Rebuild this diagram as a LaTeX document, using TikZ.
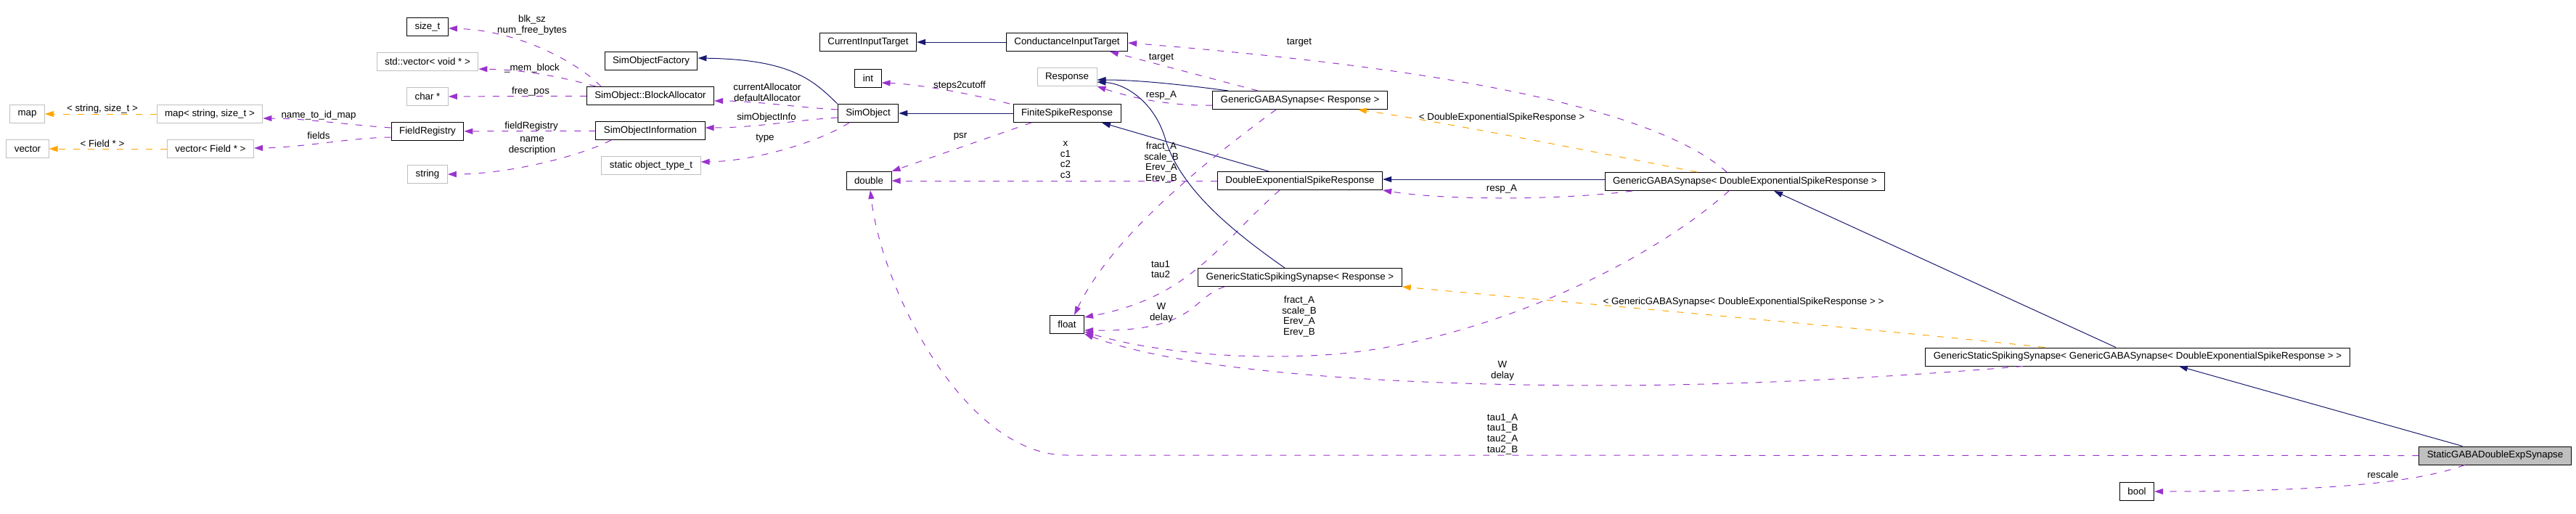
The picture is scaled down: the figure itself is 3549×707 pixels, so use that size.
\documentclass[tikz,border=0pt]{standalone}
\usepackage{fontspec}
\setmainfont{Liberation Sans}
\usetikzlibrary{arrows.meta}
\definecolor{usepurple}{HTML}{9A32CD}
\definecolor{inhblue}{HTML}{191970}
\definecolor{tmplorange}{HTML}{FFA500}
\definecolor{extgrey}{HTML}{BFBFBF}
\newcommand\dfont{\fontsize{13.33}{14.7}\selectfont}
\tikzset{
  cls/.style={draw=black, line width=1pt, font=\dfont, inner xsep=11pt, inner ysep=0pt, minimum height=25pt, anchor=center},
  ext/.style={cls, draw=extgrey},
  tip/.style={-{Triangle[length=12pt,width=8pt]}},
  use/.style={draw=usepurple, line width=1pt, dash pattern=on 9pt off 11pt, tip},
  inh/.style={draw=inhblue, line width=1pt, tip},
  tmpl/.style={draw=tmplorange, line width=1pt, dash pattern=on 9pt off 11pt, tip},
  lbl/.style={font=\dfont, align=center, inner sep=0pt},
}
\begin{document}
\begin{tikzpicture}[x=1pt,y=-1pt]
\useasboundingbox (0,0) rectangle (3549,707);
% nodes
\node[ext] (map) at (37.5,157) {map};
\node[ext] (vector) at (38,205) {vector};
\node[ext] (mapss) at (289,157) {map< string, size\_t >};
\node[ext] (vecf) at (290,205) {vector< Field * >};
\node[cls] (freg) at (589,181) {FieldRegistry};
\node[cls] (sizet) at (589,37) {size\_t};
\node[ext] (stdvec) at (589,85) {std::vector< void * >};
\node[ext] (charp) at (589,133) {char *};
\node[ext] (string) at (589,240) {string};
\node[cls] (sof) at (897,84) {SimObjectFactory};
\node[cls] (ba) at (896,132) {SimObject::BlockAllocator};
\node[cls] (soi) at (896,180) {SimObjectInformation};
\node[ext] (sot) at (897,228) {static object\_type\_t};
\node[cls] (cit) at (1196,58) {CurrentInputTarget};
\node[cls] (int) at (1196,108) {int};
\node[cls] (so) at (1196,156) {SimObject};
\node[cls] (double) at (1197,249) {double};
\node[cls] (cond) at (1470,58) {ConductanceInputTarget};
\node[ext] (resp) at (1470,106) {Response};
\node[cls] (fsr) at (1470,156) {FiniteSpikeResponse};
\node[cls] (float) at (1470,447) {float};
\node[cls] (ggsr) at (1791,138) {GenericGABASynapse< Response >};
\node[cls] (desr) at (1791,249) {DoubleExponentialSpikeResponse};
\node[cls] (gssr) at (1791,382) {GenericStaticSpikingSynapse< Response >};
\node[cls] (ggsd) at (2404,250) {GenericGABASynapse< DoubleExponentialSpikeResponse >};
\node[cls] (gssg) at (2945,491.5) {GenericStaticSpikingSynapse< GenericGABASynapse< DoubleExponentialSpikeResponse > >};
\node[cls, fill=extgrey] (sgaba) at (3437.5,627.5) {StaticGABADoubleExpSynapse};
\node[cls] (bool) at (2944,677) {bool};
% template edges
\draw[tmpl] (mapss) -- (map);
\node[lbl] at (141,150) {< string, size\_t >};
\draw[tmpl] (vecf) -- (vector);
\node[lbl] at (141,198) {< Field * >};
% field registry
\draw[use] ([yshift=5pt]freg.west) .. controls (480,172) and (420,163) .. ([yshift=-6pt]mapss.east);
\node[lbl] at (439,159) {name\_to\_id\_map};
\draw[use] ([yshift=-8pt]freg.west) .. controls (480,190) and (420,203) .. ([yshift=1pt]vecf.east);
\node[lbl] at (439,187) {fields};
% block allocator
\draw[use] ([xshift=-68pt]ba.north) .. controls (800,90) and (720,42) .. ([yshift=-2pt]sizet.east);
\node[lbl] at (733,34.5) {blk\_sz\\num\_free\_bytes};
\draw[use] ([xshift=-75pt]ba.north) .. controls (770,105) and (720,96) .. ([yshift=-10pt]stdvec.east);
\node[lbl] at (733,94) {\_mem\_block};
\draw[use] (ba) -- (charp);
\node[lbl] at (731,126) {free\_pos};
% sim object information
\draw[use] (soi) -- (freg);
\node[lbl] at (732,174) {fieldRegistry};
\draw[use] ([xshift=-54pt]soi.south) .. controls (800,215) and (700,240) .. (string.east);
\node[lbl] at (733,201) {name\\description};
% sim object
\draw[use] ([yshift=5pt]so.west) .. controls (1100,148) and (1040,139) .. ([yshift=-7pt]ba.east);
\node[lbl] at (1057,127) {currentAllocator\\defaultAllocator};
\draw[use] ([yshift=-6pt]so.west) .. controls (1100,165) and (1040,176) .. ([yshift=4pt]soi.east);
\node[lbl] at (1056,162) {simObjectInfo};
\draw[use] ([xshift=-26pt]so.south) .. controls (1130,195) and (1040,222) .. ([yshift=5pt]sot.east);
\node[lbl] at (1054,191) {type};
\draw[inh] (so.north west) .. controls (1120,110) and (1090,82) .. ([yshift=4pt]sof.east);
% finite spike response
\draw[inh] (fsr) -- (so);
\draw[use] ([xshift=-79pt]fsr.north) .. controls (1350,132) and (1270,116) .. ([yshift=-6pt]int.east);
\node[lbl] at (1322,118) {steps2cutoff};
\draw[use] ([xshift=-49pt]fsr.south) -- (double.north east);
\node[lbl] at (1323,188) {psr};
% double exponential spike response
\draw[use] (desr) -- (double);
\node[lbl] at (1468,220) {x\\c1\\c2\\c3};
\draw[inh] ([xshift=-43pt]desr.north) -- ([xshift=48pt]fsr.south);
\draw[use] ([xshift=-28pt]desr.south) .. controls (1680,335) and (1640,410) .. ([yshift=10pt]float.east);
\node[lbl] at (1599,371) {tau1\\tau2};
\draw[inh] (cond) -- (cit);
% GenericGABASynapse< Response >
\draw[inh] ([xshift=-99pt]ggsr.north) .. controls (1640,118) and (1570,110) .. ([yshift=-4pt]resp.east);
\draw[use] ([yshift=-7pt]ggsr.west) .. controls (1610,146) and (1560,135) .. (resp.south east);
\node[lbl] at (1600,131) {resp\_A};
\draw[use] ([xshift=-58pt]ggsr.north) -- ([xshift=59pt]cond.south);
\node[lbl] at (1600,80) {target};
\draw[use] ([xshift=-33pt]ggsr.south) .. controls (1650,230) and (1530,330) .. ([xshift=10pt]float.north);
\node[lbl] at (1600,224) {fract\_A\\scale\_B\\Erev\_A\\Erev\_B};
% GenericStaticSpikingSynapse< Response >
\draw[inh] ([xshift=-21pt]gssr.north) .. controls (1700,320) and (1625,260) .. (1605,190) .. controls (1590,140) and (1550,115) .. ([yshift=-7pt]resp.east);
\draw[use] ([xshift=-104pt]gssr.south) .. controls (1640,410) and (1650,457) .. ([yshift=-8pt]float.east);
\node[lbl] at (1600,431) {W\\delay};
% GenericGABASynapse< DESR >
\draw[inh] ([yshift=3pt]ggsd.west) -- ([yshift=2pt]desr.east);
\draw[use] ([xshift=-155pt]ggsd.south) .. controls (2150,276) and (1990,276) .. (desr.south east);
\node[lbl] at (2069,260) {resp\_A};
\draw[tmpl] ([xshift=-66pt]ggsd.north) .. controls (2200,210) and (2000,170) .. ([xshift=-41pt]ggsr.south east);
\node[lbl] at (2069,162) {< DoubleExponentialSpikeResponse >};
\draw[use] ([xshift=-25pt]ggsd.north) .. controls (2280,150) and (2000,95) .. ([yshift=-1pt]cond.east);
\node[lbl] at (1790,59) {target};
\draw[use] ([xshift=-22pt]ggsd.south) .. controls (2250,380) and (2000,485) .. (1800,490) .. controls (1680,495) and (1570,480) .. ([yshift=-10pt]float.east);
\node[lbl] at (1790,436) {fract\_A\\scale\_B\\Erev\_A\\Erev\_B};
% GenericStaticSpikingSynapse< GGS< DESR > >
\draw[inh] ([xshift=-30pt]gssg.north) -- ([xshift=40pt]ggsd.south);
\draw[tmpl] ([xshift=-128pt]gssg.north) .. controls (2600,455) and (2200,420) .. (gssr.south east);
\node[lbl] at (2402,416) {< GenericGABASynapse< DoubleExponentialSpikeResponse > >};
\draw[use] ([xshift=-158pt]gssg.south) .. controls (2600,520) and (2350,535) .. (2100,530) .. controls (1800,525) and (1600,500) .. (float.south east);
\node[lbl] at (2070,511) {W\\delay};
% StaticGABADoubleExpSynapse
\draw[inh] ([xshift=-45pt]sgaba.north) -- ([xshift=57pt]gssg.south);
\draw[use] (sgaba.west) -- (1470,627) .. controls (1330,627) and (1215,400) .. ([xshift=2pt]double.south);
\node[lbl] at (2070,598) {tau1\_A\\tau1\_B\\tau2\_A\\tau2\_B};
\draw[use] ([xshift=-42pt]sgaba.south) .. controls (3330,665) and (3200,677) .. (bool.east);
\node[lbl] at (3283,654) {rescale};
\end{tikzpicture}
\end{document}
